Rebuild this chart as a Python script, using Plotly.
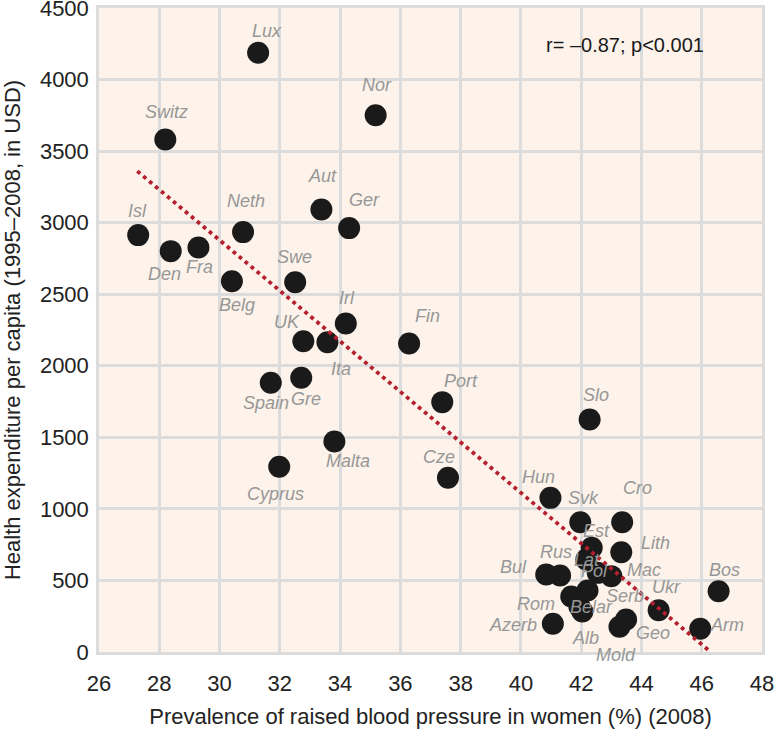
import plotly.graph_objects as go

countries = ["Lux", "Nor", "Switz", "Aut", "Ger", "Isl", "Den", "Fra", "Neth", "Belg",
             "Swe", "Irl", "UK", "Ita", "Fin", "Spain", "Gre", "Port", "Malta", "Cyprus",
             "Cze", "Slo", "Hun", "Svk", "Cro", "Est", "Lith", "Rus", "Lat", "Bul",
             "Pol", "Mac", "Serb", "Ukr", "Bos", "Rom", "Belar", "Azerb", "Alb", "Geo",
             "Mold", "Arm"]
bp_women = [31.28, 35.18, 28.2, 33.38, 34.3, 27.3, 28.38, 29.3, 30.78, 30.41,
            32.51, 34.19, 32.78, 33.58, 36.29, 31.7, 32.71, 37.39, 33.81, 31.98,
            37.58, 42.28, 40.98, 41.97, 43.36, 42.35, 43.33, 41.3, 42.17, 40.84,
            42.55, 43.0, 42.21, 44.57, 46.56, 41.67, 41.94, 41.06, 42.04, 43.49,
            43.27, 45.95]
health_exp = [4187, 3751, 3581, 3092, 2962, 2913, 2801, 2827, 2934, 2591,
              2584, 2296, 2172, 2165, 2156, 1881, 1916, 1746, 1471, 1294,
              1217, 1625, 1077, 907, 907, 728, 697, 535, 646, 542,
              553, 530, 430, 292, 425, 388, 318, 197, 283, 227,
              176, 162]
trend_x = [27.27, 46.3]
trend_y = [3360, 0]
x_ticks = [26, 28, 30, 32, 34, 36, 38, 40, 42, 44, 46, 48]
y_ticks = [0, 500, 1000, 1500, 2000, 2500, 3000, 3500, 4000, 4500]

# label offsets in pixels (dx right, dy up)
label_offsets = {
    "Lux": (9, 22), "Nor": (1, 30), "Switz": (1, 28), "Aut": (1, 34), "Ger": (15, 28),
    "Isl": (-1, 24), "Den": (-6, -23), "Fra": (1, -20), "Neth": (3, 31), "Belg": (5, -24),
    "Swe": (-1, 25), "Irl": (1, 25), "UK": (-16, 19), "Ita": (14, -27), "Fin": (18, 27),
    "Spain": (-5, -20), "Gre": (5, -21), "Port": (19, 21), "Malta": (14, -20), "Cyprus": (-4, -27),
    "Cze": (-9, 21), "Slo": (6, 24), "Hun": (-12, 21), "Svk": (3, 24), "Cro": (15, 34),
    "Est": (5, 17), "Lith": (34, 9), "Rus": (-4, 23), "Lat": (1, 0), "Bul": (-33, 7),
    "Pol": (-3, 2), "Mac": (33, 6), "Serb": (37, -6), "Ukr": (8, 23), "Bos": (6, 21),
    "Rom": (-35, -8), "Belar": (12, -1), "Azerb": (-40, -1), "Alb": (3, -26), "Geo": (27, -13),
    "Mold": (-3, -28), "Arm": (27, 4),
}

font_main = "Liberation Sans, Arial, Helvetica, sans-serif"
grid_col = "#dcdcdc"
trend_line = dict(color="#b5202e", width=3.8, dash="3.8px,4.0px")
W, H = 775, 730
ML, MR, MT, MB = 99, 13, 8, 78

fig = go.Figure()
fig.add_trace(go.Scatter(
    x=bp_women, y=health_exp, mode="markers",
    marker=dict(size=22, color="#1a1a1a", line=dict(width=0)),
    text=countries, showlegend=False,
))
fig.add_trace(go.Scatter(
    x=trend_x, y=trend_y, mode="lines", line=trend_line,
    hoverinfo="skip", showlegend=False,
))

annotations = []
for c, xv, yv in zip(countries, bp_women, health_exp):
    dx, dy = label_offsets[c]
    annotations.append(dict(
        x=xv, y=yv, text="<i>" + c + "</i>", showarrow=False, xshift=dx, yshift=dy,
        font=dict(family=font_main, size=18, color="#979797"),
        xanchor="center", yanchor="middle",
    ))
pw, ph = W - ML - MR, H - MT - MB
annotations.append(dict(
    x=(706 - ML) / pw, y=1 - (45 - MT) / ph, xref="paper", yref="paper",
    text="r= \u20130.87; p<0.001",
    showarrow=False, xanchor="right", yanchor="middle",
    font=dict(family=font_main, size=20, color="#1a1a1a"),
))

fig.update_layout(
    width=W, height=H,
    margin=dict(l=ML, r=MR, t=MT, b=MB, autoexpand=False),
    paper_bgcolor="white", plot_bgcolor="#fdf3ea",
    annotations=annotations,
    font=dict(family=font_main, color="#222222"),
)
fig.update_xaxes(
    range=[26, 48], tickvals=x_ticks, ticktext=[str(t) for t in x_ticks],
    showgrid=True, gridcolor=grid_col, gridwidth=2.5,
    showline=True, linecolor=grid_col, linewidth=2.5, mirror=True,
    zeroline=False, ticks="", tickfont=dict(size=22, color="#222222"),
    automargin=False, ticklabelstandoff=10, ticklabeloverflow="allow",
    title=dict(text="Prevalence of raised blood pressure in women (%) (2008)",
               font=dict(size=22, color="#222222"), standoff=14),
)
fig.update_yaxes(
    range=[0, 4500], tickvals=y_ticks, ticktext=[str(t) for t in y_ticks],
    showgrid=True, gridcolor=grid_col, gridwidth=2.5,
    showline=True, linecolor=grid_col, linewidth=2.5, mirror=True,
    zeroline=False, ticks="", tickfont=dict(size=22, color="#222222"),
    automargin=False, ticklabelstandoff=3, ticklabeloverflow="allow",
    title=dict(text="Health expenditure per capita (1995\u20132008, in USD)",
               font=dict(size=22, color="#222222"), standoff=14),
)

fig.write_html("out.html", config={"displayModeBar": False},
               post_script="document.body.style.margin='0px';")
